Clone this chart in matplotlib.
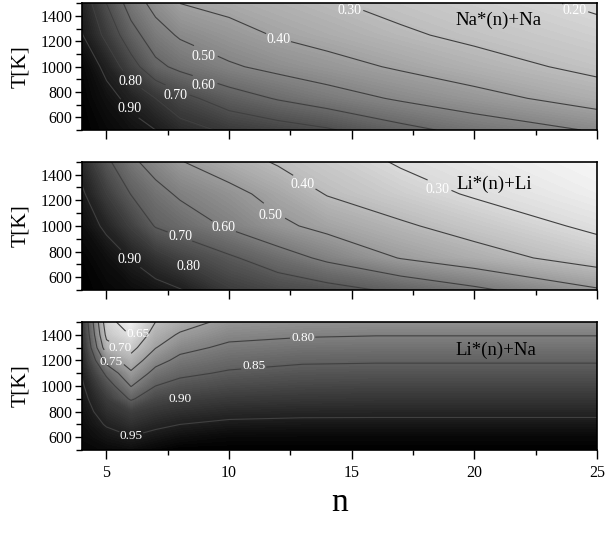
import numpy as np
import matplotlib.pyplot as plt
from matplotlib.ticker import MultipleLocator

plt.rcParams['font.family'] = ['Liberation Serif', 'DejaVu Serif']

# -----------------------------
# Data
# -----------------------------
n_vals = [4, 5, 6, 7, 8, 10, 12, 14, 17, 20, 25]
T_vals = [500, 750, 1000, 1250, 1500]

# rows: T = 500 ... 1500, columns: n_vals
na_na = [
    [1.000, 0.970, 0.935, 0.900, 0.840, 0.782, 0.746, 0.711, 0.630, 0.567, 0.490],
    [0.990, 0.935, 0.872, 0.800, 0.733, 0.648, 0.592, 0.547, 0.487, 0.437, 0.352],
    [0.975, 0.873, 0.742, 0.625, 0.576, 0.513, 0.472, 0.438, 0.387, 0.339, 0.275],
    [0.905, 0.774, 0.638, 0.543, 0.488, 0.438, 0.392, 0.361, 0.314, 0.279, 0.228],
    [0.867, 0.700, 0.556, 0.467, 0.400, 0.370, 0.339, 0.309, 0.272, 0.238, 0.185],
]

li_li = [
    [1.000, 0.980, 0.960, 0.935, 0.905, 0.810, 0.765, 0.735, 0.680, 0.620, 0.510],
    [0.990, 0.950, 0.895, 0.835, 0.786, 0.714, 0.645, 0.580, 0.496, 0.442, 0.355],
    [0.955, 0.880, 0.790, 0.693, 0.657, 0.587, 0.520, 0.473, 0.414, 0.360, 0.280],
    [0.915, 0.800, 0.697, 0.632, 0.586, 0.530, 0.465, 0.395, 0.340, 0.290, 0.235],
    [0.860, 0.720, 0.620, 0.560, 0.505, 0.445, 0.390, 0.350, 0.290, 0.255, 0.210],
]

n_vals3 = [4, 5, 6, 7, 8, 10, 13, 16, 20, 25]
T_vals3 = [500, 600, 700, 800, 900, 1000, 1100, 1200, 1300, 1400, 1500]

li_na = [
    [0.990, 0.985, 0.978, 0.990, 1.000, 1.000, 1.000, 1.000, 1.000, 1.000],
    [0.985, 0.966, 0.952, 0.965, 0.976, 0.986, 0.987, 0.987, 0.987, 0.987],
    [0.978, 0.946, 0.925, 0.940, 0.950, 0.960, 0.963, 0.963, 0.963, 0.963],
    [0.972, 0.926, 0.900, 0.915, 0.924, 0.934, 0.938, 0.939, 0.939, 0.939],
    [0.965, 0.906, 0.843, 0.886, 0.898, 0.908, 0.913, 0.915, 0.915, 0.915],
    [0.957, 0.877, 0.798, 0.850, 0.868, 0.882, 0.889, 0.892, 0.892, 0.892],
    [0.946, 0.839, 0.758, 0.817, 0.839, 0.856, 0.866, 0.868, 0.868, 0.868],
    [0.936, 0.781, 0.720, 0.782, 0.813, 0.832, 0.843, 0.845, 0.845, 0.845],
    [0.926, 0.719, 0.683, 0.748, 0.785, 0.810, 0.819, 0.821, 0.821, 0.821],
    [0.917, 0.688, 0.647, 0.724, 0.756, 0.787, 0.795, 0.798, 0.798, 0.798],
    [0.908, 0.670, 0.620, 0.700, 0.727, 0.764, 0.771, 0.774, 0.774, 0.774],
]

# contour levels and where their labels sit
lines1 = [0.2, 0.3, 0.4, 0.5, 0.6, 0.7, 0.8, 0.9]
lines2 = [0.3, 0.4, 0.5, 0.6, 0.7, 0.8, 0.9]
lines3 = [0.65, 0.70, 0.75, 0.80, 0.85, 0.90, 0.95]

lab1 = [(24.1, 1442), (14.9, 1442), (12.0, 1218), (8.95, 1080),
        (8.95, 855), (7.8, 776), (5.96, 880), (5.96, 670)]
lab2 = [(18.5, 1281), (13.0, 1320), (11.7, 1081), (9.77, 985),
        (8.0, 920), (8.34, 682), (5.96, 739)]
lab3 = [(6.3, 1405), (5.55, 1300), (5.2, 1190), (13.0, 1374),
        (11.0, 1155), (8.0, 897), (6.0, 608)]

panels = [
    (n_vals, T_vals, na_na, 0.05, lines1, lab1, "Na*(n)+Na", (21.0, 1368)),
    (n_vals, T_vals, li_li, 0.18, lines2, lab2, "Li*(n)+Li", (20.8, 1325)),
    (n_vals3, T_vals3, li_na, 0.60, lines3, lab3, "Li*(n)+Na", (20.9, 1279)),
]

# -----------------------------
# Figure
# -----------------------------
fig = plt.figure(figsize=(6.05, 5.36), dpi=100)
boxes = [
    [0.1355, 0.7575, 0.851, 0.236],
    [0.1355, 0.459, 0.851, 0.239],
    [0.1355, 0.1604, 0.851, 0.239],
]

for i, (nx, ty, z, vmin, lev, labpos, name, txtpos) in enumerate(panels):
    ax = fig.add_axes(boxes[i])
    N, T = np.meshgrid(nx, ty)
    Z = np.array(z)

    fill_levels = np.linspace(vmin, 1.0, 90)
    ax.contourf(N, T, Z, levels=fill_levels, cmap="gray_r",
                vmin=vmin, vmax=1.0, extend="both")
    cs = ax.contour(N, T, Z, levels=lev, colors="#404040", linewidths=0.8)
    fs = 9.5 if i == 2 else 10
    labels = ax.clabel(cs, fmt="%.2f", colors="white", fontsize=fs,
                       inline=True, inline_spacing=1, manual=labpos)
    # horizontal labels at the spots seen in the original
    for t, pos in zip(labels, labpos):
        t.set_rotation(0)
        t.set_position(pos)

    ax.text(txtpos[0], txtpos[1], name, ha="center", va="center", fontsize=13.5)

    ax.set_xlim(4, 25)
    ax.set_ylim(500, 1500)
    ax.set_xticks([5, 10, 15, 20, 25])
    ax.xaxis.set_minor_locator(MultipleLocator(2.5))
    ax.set_yticks([600, 800, 1000, 1200, 1400])
    ax.yaxis.set_minor_locator(MultipleLocator(100))

    ax.tick_params(axis="x", which="major", direction="out", length=6.5, width=1, labelsize=11.5, pad=4)
    ax.tick_params(axis="x", which="minor", direction="out", length=3.5, width=1)
    ax.tick_params(axis="y", which="major", direction="out", length=5, width=1, labelsize=11.5, pad=2)
    ax.tick_params(axis="y", which="minor", direction="out", length=4, width=1)
    if i < 2:
        ax.tick_params(axis="x", labelbottom=False)

    for sp in ax.spines.values():
        sp.set_linewidth(1.2)

    ax.set_ylabel("T[K]", fontsize=15.5)
    ax.yaxis.set_label_coords(-0.1, 0.5)

fig.text(0.561, 0.062, "n", ha="center", va="center", fontsize=24)

plt.savefig("out.png", dpi=100)
